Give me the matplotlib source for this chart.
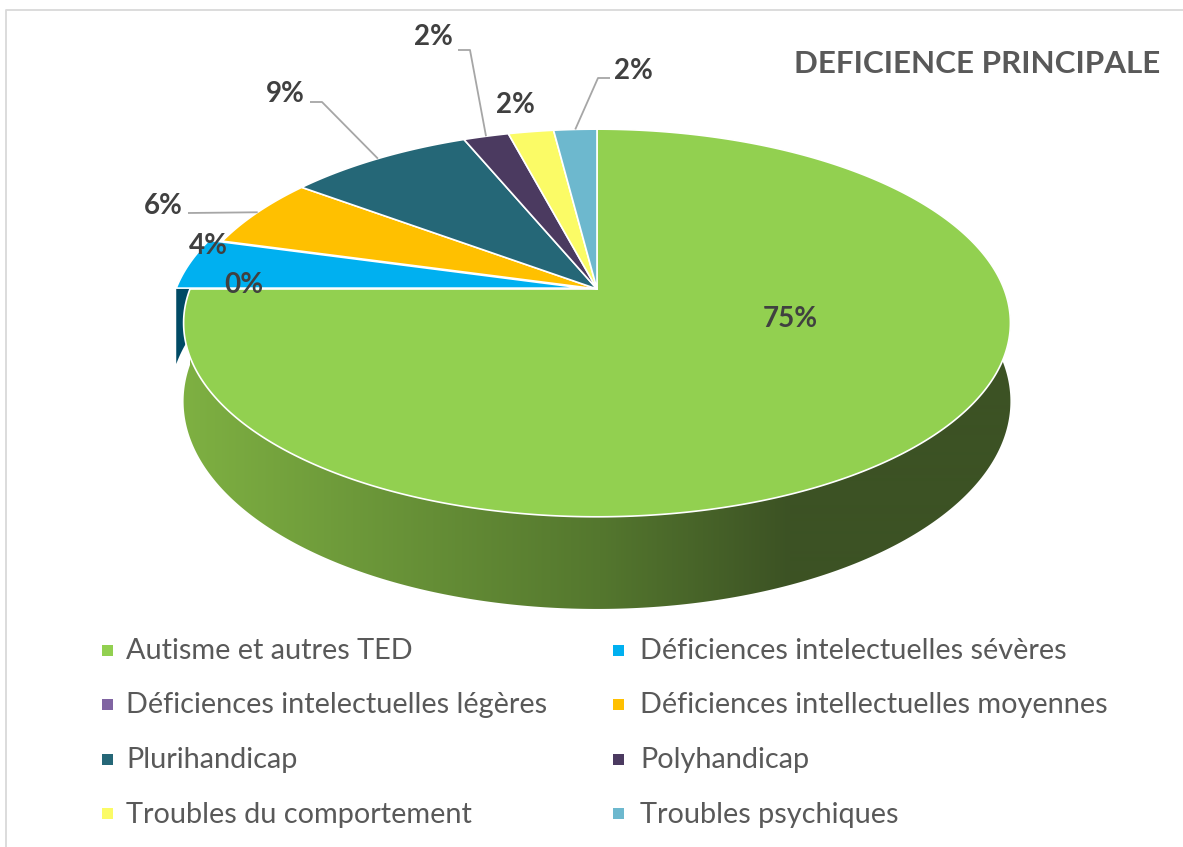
import numpy as np
import matplotlib
matplotlib.use("Agg")
import matplotlib.pyplot as plt
from matplotlib.patches import Polygon, Rectangle
from matplotlib.colors import to_rgb

# ---------------- data ----------------
categories = ["Autisme et autres TED",
              "Déficiences intelectuelles sévères",
              "Déficiences intelectuelles légères",
              "Déficiences intellectuelles moyennes",
              "Plurihandicap",
              "Polyhandicap",
              "Troubles du comportement",
              "Troubles psychiques"]
values = [75.0, 4.3, 0.0, 5.9, 8.6, 2.1, 2.1, 2.0]
colors = ["#92D050", "#00B0F0", "#8064A2", "#FFC000",
          "#256777", "#4B3A60", "#FBFB66", "#6DB8CE"]
explode = [0, 0.035, 0, 0, 0, 0, 0, 0]
title = "DEFICIENCE PRINCIPALE"

# ---------------- layout ----------------
W, H = 1183, 847
fig = plt.figure(figsize=(W / 100, H / 100), dpi=100)
ax = fig.add_axes([0, 0, 1, 1])
ax.set_xlim(0, W)
ax.set_ylim(H, 0)
ax.axis("off")

CX, CY = 597, 289      # projected pie centre
RX = 407               # horizontal radius
K = 0.1753             # perspective factor
BZ = -137.2            # vertical scale of depth axis
DEPTH = 76             # wall thickness

def proj(theta_deg, r=1.0, h=0.0, dx=0.0, dz=0.0):
    t = np.radians(theta_deg)
    x = r * np.sin(t) + dx
    z = r * np.cos(t) + dz
    d = 1 + K * z
    X = CX + RX * x / d
    Y = (CY + BZ * z) / d + h * DEPTH / d
    return X, Y, z

total = sum(values)
angles = np.cumsum([0] + [v / total * 360 for v in values])

# green wall gradient (left light -> right dark)
grad_stops = [(185, (126, 176, 66)), (600, (84, 119, 46)),
              (790, (60, 82, 36)), (1200, (60, 82, 36))]
gx = np.arange(W)
grad = np.zeros((1, W, 3))
for ch in range(3):
    grad[0, :, ch] = np.interp(gx, [p[0] for p in grad_stops],
                               [p[1][ch] for p in grad_stops]) / 255

# ---- side walls (front-facing part only) ----
for i, v in enumerate(values):
    a0, a1 = angles[i], angles[i + 1]
    lo, hi = max(a0, 80), min(a1, 285)
    if a1 - a0 <= 0 or hi <= lo:
        continue
    mid = np.radians((a0 + a1) / 2)
    dx, dz = explode[i] * np.sin(mid), explode[i] * np.cos(mid)
    th = np.linspace(lo, hi, 300)
    top = [proj(t, dx=dx, dz=dz)[:2] for t in th]
    bot = [proj(t, h=1, dx=dx, dz=dz)[:2] for t in th[::-1]]
    if i == 0:
        poly = Polygon(top + bot, closed=True, facecolor="none",
                       edgecolor="none", transform=ax.transData)
        ax.add_patch(poly)
        im = ax.imshow(grad, extent=(0, W, H, 0), aspect="auto",
                       interpolation="bilinear", zorder=1)
        im.set_clip_path(poly)
    else:
        col = tuple(c * 0.42 for c in to_rgb(colors[i]))
        ax.add_patch(Polygon(top + bot, closed=True, facecolor=col,
                             edgecolor="none", zorder=1))

ax.set_xlim(0, W)
ax.set_ylim(H, 0)

# ---- top faces ----
for i, v in enumerate(values):
    a0, a1 = angles[i], angles[i + 1]
    if a1 - a0 <= 0:
        continue
    mid = np.radians((a0 + a1) / 2)
    dx, dz = explode[i] * np.sin(mid), explode[i] * np.cos(mid)
    th = np.linspace(a0, a1, max(3, int((a1 - a0) * 2)))
    cx, cy, _ = proj(0, r=0, dx=dx, dz=dz)
    pts = [(cx, cy)] + [proj(t, dx=dx, dz=dz)[:2] for t in th]
    ax.add_patch(Polygon(pts, closed=True, facecolor=colors[i],
                         edgecolor="white", lw=1.2, joinstyle="round", zorder=3))

# ---- data labels ----
label_base = [(790, 327), (208, 254), (244, 293), (163, 214),
              (285, 102), (433, 45), (515, 113), (633, 79)]
leaders = {3: [(188, 213)],
           4: [(310, 102), (322, 102)],
           5: [(458, 50), (470, 50)],
           7: [(610, 78), (598, 78)]}
lab_font = ["Lato", "DejaVu Sans"]
for i, v in enumerate(values):
    pct = v / total * 100
    x, y = label_base[i]
    ax.text(x, y, f"{pct:.0f}%", ha="center", va="baseline", fontsize=20,
            fontweight="bold", color="#404040", family=lab_font, zorder=5)
    if i in leaders:
        mid = (angles[i] + angles[i + 1]) / 2
        ex, ey, _ = proj(mid)
        pts = leaders[i] + [(ex, ey)]
        ax.plot([p[0] for p in pts], [p[1] for p in pts], color="#A6A6A6",
                lw=1.3, zorder=4, solid_capstyle="butt")

# ---- title ----
ax.text(1160, 73, title, ha="right", va="baseline", fontsize=22.6,
        fontweight="bold", color="#595959", family=lab_font, zorder=5)

# ---- legend ----
col_x = [(102, 126), (613, 640)]
row_base = [659, 713.5, 768, 822.5]
for i, name in enumerate(categories):
    r, c = divmod(i, 2)
    mx, tx = col_x[c]
    yb = row_base[r]
    ax.add_patch(Rectangle((mx, yb - 14), 11, 11, facecolor=colors[i],
                           edgecolor="none", zorder=5))
    ax.text(tx, yb, name, ha="left", va="baseline", fontsize=20.8,
            color="#595959", family=lab_font, zorder=5)

# ---- chart border ----
ax.plot([6.5, 6.5, W], [H, 10.5, 10.5], color="#D9D9D9", lw=1.3, zorder=0)

fig.savefig("out.png", dpi=100)
